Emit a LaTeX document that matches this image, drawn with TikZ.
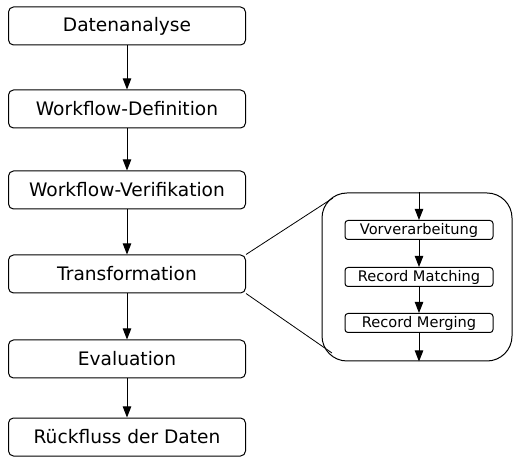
\documentclass[tikz,border=0pt]{standalone}
\usepackage{fontspec}
\setmainfont{DejaVu Sans}
\usetikzlibrary{calc,arrows.meta}

\begin{document}
\begin{tikzpicture}[x=0.5pt,y=-0.5pt]
\tikzstyle{step box}=[draw,rounded corners=2.5pt,line width=0.5pt,minimum width=118.5pt,minimum height=19pt,inner sep=0pt,font=\fontsize{9.3}{11}\selectfont]
\tikzstyle{sub box}=[draw,rounded corners=1.5pt,line width=0.5pt,minimum width=74pt,minimum height=9.5pt,inner sep=0pt,font=\fontsize{7.3}{8}\selectfont]
\tikzstyle{flow}=[line width=0.5pt,-{Triangle[length=5.5pt,width=4.2pt]}]

\useasboundingbox (0,0) rectangle (513,458);

\node (ana) [step box] at (127,26) {Datenanalyse};
\node (def) [step box] at (127,109) {Workflow-Definition};
\node (ver) [step box] at (127,190) {Workflow-Verifikation};
\node (trans) [step box] at (127,274) {Transformation};
\node (eval) [step box] at (127,359) {Evaluation};
\node (back) [step box] at (127,437) {Rückfluss der Daten};

\draw [flow] (ana) -- (def);
\draw [flow] (def) -- (ver);
\draw [flow] (ver) -- (trans);
\draw [flow] (trans) -- (eval);
\draw [flow] (eval) -- (back);

% detail of the transformation
\node (panel) [draw,rounded corners=12.5pt,line width=0.5pt,minimum width=95pt,minimum height=84pt] at (417,277) {};
\coordinate (zoomtop) at (333,198);
\coordinate (zoombot) at (332,353);
\draw [line width=0.4pt] (trans.north east) -- (zoomtop);
\draw [line width=0.4pt] (trans.south east) -- (zoombot);

\node (pre) [sub box] at (419,230) {Vorverarbeitung};
\node (match) [sub box] at (419,277) {Record Matching};
\node (merge) [sub box] at (419,323) {Record Merging};

\draw [flow] (panel.north -| pre) -- (pre);
\draw [flow] (pre) -- (match);
\draw [flow] (match) -- (merge);
\draw [flow] (merge) -- (panel.south -| merge);

\end{tikzpicture}
\end{document}
